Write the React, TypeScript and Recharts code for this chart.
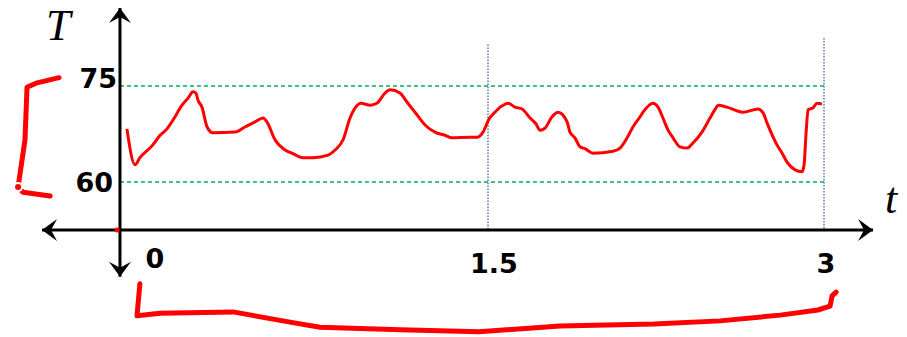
import { ComposedChart, Line, XAxis, YAxis, ReferenceLine, ReferenceDot } from "recharts"

// temperature curve
const times = [
  -0.112, -0.076, -0.054, 0.004, 0.036, 0.067, 0.094, 0.134, 0.161, 0.183, 0.196, 0.205, 0.223, 0.246, 0.272,
  0.371, 0.415, 0.46, 0.496, 0.513, 0.549, 0.594, 0.625, 0.674, 0.719, 0.786, 0.817, 0.853, 0.884, 0.933,
  0.973, 1.004, 1.04, 1.063, 1.107, 1.138, 1.174, 1.219, 1.263, 1.308, 1.339, 1.42, 1.451, 1.478, 1.504,
  1.531, 1.563, 1.589, 1.621, 1.652, 1.688, 1.714, 1.732, 1.754, 1.786, 1.813, 1.853, 1.866, 1.888, 1.911,
  1.933, 1.969, 2.058, 2.089, 2.121, 2.147, 2.179, 2.192, 2.237, 2.259, 2.281, 2.304, 2.326, 2.357, 2.388,
  2.415, 2.455, 2.491, 2.513, 2.527, 2.567, 2.638, 2.705, 2.728, 2.746, 2.79, 2.813, 2.835, 2.871, 2.902,
  2.911, 2.92, 2.929, 2.951, 2.969, 2.991,
]
const temps = [
  68.3, 62.7, 63.8, 65.8, 67.3, 68.3, 69.7, 72.0, 73.1, 74.1, 73.9, 72.8, 71.7, 68.6, 67.7,
  67.8, 68.6, 69.4, 70.0, 69.4, 66.6, 65.0, 64.5, 63.8, 63.8, 64.2, 65.0, 66.6, 70.0, 72.3,
  72.0, 72.3, 73.9, 74.4, 73.9, 72.5, 70.9, 68.9, 67.8, 67.3, 66.9, 67.0, 67.0, 67.8, 69.8,
  70.9, 71.9, 72.3, 71.7, 71.4, 70.0, 69.1, 68.1, 68.4, 70.2, 70.9, 69.4, 67.8, 66.9, 65.5,
  65.2, 64.5, 64.8, 65.3, 66.9, 68.6, 70.2, 70.9, 72.3, 71.7, 70.0, 68.1, 66.9, 65.5, 65.3,
  66.1, 67.8, 70.0, 71.3, 72.0, 71.7, 70.9, 71.4, 70.8, 69.2, 65.8, 64.5, 63.1, 61.9, 61.6,
  62.7, 67.7, 71.3, 71.6, 72.3, 72.2,
]

// hand drawn brackets
const leftBracketT = [-0.415, -0.513, -0.558, -0.567, -0.598, -0.576, -0.455]
const leftBracketV = [76.3, 75.5, 74.8, 66.6, 59.2, 58.4, 57.8]
const bottomBracketT = [-0.054, -0.067, 0.036, 0.362, 0.616, 0.75, 1.107, 1.46, 1.821, 2.241, 2.536, 2.804, 2.973, 3.027, 3.036, 3.054]
const bottomBracketV = [44.1, 39.1, 39.5, 39.7, 38.1, 37.3, 36.9, 36.6, 37.5, 37.8, 38.3, 39.2, 40.0, 40.6, 42.2, 42.8]

const xTicks = [0, 1.5, 3]
const yTicks = [60, 75]
const dashedLevels = [75, 60]
const dottedTimes = [1.5, 3]
const dottedTops = [81.5, 82.5]

const tAxisAt = 52.5 // T value where the t axis sits
const yAxisAt = -0.143 // t value where the T axis sits

const curve = times.map((t, i) => ({ t, T: temps[i] }))
const leftBracket = leftBracketT.map((t, i) => ({ t, T: leftBracketV[i] }))
const bottomBracket = bottomBracketT.map((t, i) => ({ t, T: bottomBracketV[i] }))

const xTickStyle: Record<number, [number, number]> = { 0: [3, 38], 1.5: [6, 43], 3: [2, 43] }
const yTickStyle: Record<number, [number, number]> = { 75: [-3, 2], 60: [-7, 10] }

const labelFont = "'DejaVu Sans', 'Liberation Sans', Arial, sans-serif"
const mathFont = "'Liberation Serif', 'Times New Roman', serif"

function head(tx: number, ty: number, ux: number, uy: number) {
  const L = 15, W = 11, N = 9
  const bx = tx - ux * L, by = ty - uy * L
  const px = -uy, py = ux
  return `${tx},${ty} ${bx + px * W},${by + py * W} ${tx - ux * N},${ty - uy * N} ${bx - px * W},${by - py * W}`
}

function arrowAxis(name: string, dx: number, dy: number) {
  return (props: any) => {
    const { x1, y1, x2, y2 } = props
    const len = Math.hypot(x2 - x1, y2 - y1) || 1
    const ux = (x2 - x1) / len, uy = (y2 - y1) / len
    return (
      <g>
        <line x1={x1} y1={y1} x2={x2} y2={y2} stroke="#000" strokeWidth={3} />
        <polygon points={head(x2, y2, ux, uy)} fill="#000" />
        <polygon points={head(x1, y1, -ux, -uy)} fill="#000" />
        <text x={x2 + dx} y={y2 + dy} fontFamily={mathFont} fontStyle="italic" fontSize={44} fill="#000">
          {name}
        </text>
      </g>
    )
  }
}

function tickLabel(value: number, dx: number, dy: number, anchor: "middle" | "end") {
  return (props: any) => (
    <text
      x={props.cx + dx}
      y={props.cy + dy}
      textAnchor={anchor}
      fontFamily={labelFont}
      fontWeight="bold"
      fontSize={27}
      fill="#000"
    >
      {value}
    </text>
  )
}

export default function App() {
  return (
    <div style={{ position: "absolute", left: 0, top: 0, background: "#fff" }}>
      <ComposedChart width={907} height={337} margin={{ top: 0, right: 0, bottom: 0, left: 0 }}>
        <XAxis type="number" dataKey="t" domain={[-0.6786, 3.3705]} allowDataOverflow hide />
        <YAxis type="number" domain={[35.78, 88.44]} allowDataOverflow hide />

        {dashedLevels.map((v) => (
          <ReferenceLine
            key={"h" + v}
            segment={[{ x: yAxisAt, y: v }, { x: 3, y: v }]}
            stroke="#00b050"
            strokeWidth={1.3}
            strokeDasharray="4 3"
          />
        ))}
        {dottedTimes.map((t, i) => (
          <ReferenceLine
            key={"v" + t}
            segment={[{ x: t, y: dottedTops[i] }, { x: t, y: tAxisAt }]}
            stroke="#2f55a4"
            strokeWidth={1.2}
            strokeDasharray="1.5 1.5"
          />
        ))}

        <ReferenceLine
          segment={[{ x: yAxisAt, y: 45.2 }, { x: yAxisAt, y: 87.2 }]}
          shape={arrowAxis("T", -74, 32)}
        />
        <ReferenceLine
          segment={[{ x: -0.491, y: tAxisAt }, { x: 3.219, y: tAxisAt }]}
          shape={arrowAxis("t", 12, -17)}
        />

        {xTicks.map((t) => (
          <ReferenceDot
            key={"xt" + t}
            x={t}
            y={tAxisAt}
            r={0}
            shape={tickLabel(t, xTickStyle[t][0], xTickStyle[t][1], "middle")}
          />
        ))}
        {yTicks.map((v) => (
          <ReferenceDot
            key={"yt" + v}
            x={yAxisAt}
            y={v}
            r={0}
            shape={tickLabel(v, yTickStyle[v][0], yTickStyle[v][1], "end")}
          />
        ))}

        <Line
          data={curve}
          dataKey="T"
          type="monotone"
          stroke="#ff0000"
          strokeWidth={3}
          dot={false}
          strokeLinejoin="round"
          isAnimationActive={false}
        />
        <Line
          data={leftBracket}
          dataKey="T"
          type="linear"
          stroke="#ff0000"
          strokeWidth={5}
          dot={false}
          strokeLinecap="round"
          strokeLinejoin="round"
          isAnimationActive={false}
        />
        <Line
          data={bottomBracket}
          dataKey="T"
          type="linear"
          stroke="#ff0000"
          strokeWidth={5}
          dot={false}
          strokeLinecap="round"
          strokeLinejoin="round"
          isAnimationActive={false}
        />
        <ReferenceDot x={-0.156} y={tAxisAt} r={2.5} fill="#ff0000" stroke="none" />
      </ComposedChart>
    </div>
  )
}
